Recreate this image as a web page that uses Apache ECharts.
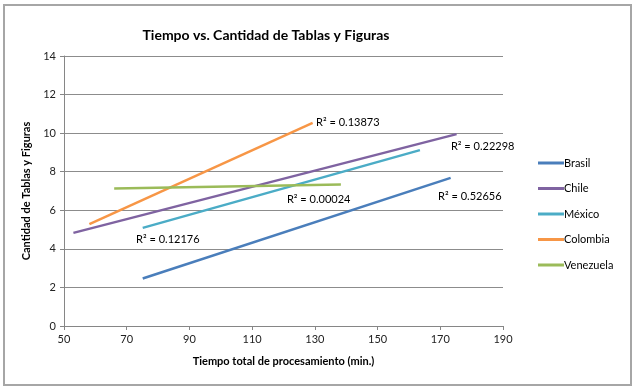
<!DOCTYPE html>
<html>
<head>
<meta charset="utf-8">
<script src="https://cdn.jsdelivr.net/npm/echarts@6/dist/echarts.min.js"></script>
<style>
  html, body { margin: 0; padding: 0; background: #fff; }
  #chart { width: 635px; height: 391px; }
</style>
</head>
<body>
<div id="chart"></div>
<script>
  // trendline end points: [tiempo, cantidad]
  const paises = ['Brasil', 'Chile', 'México', 'Colombia', 'Venezuela'];
  const colores = ['#4a7ebb', '#7f63a1', '#4bacc6', '#f79646', '#9bbb59'];
  const brasil = [[75.1, 2.46], [173.3, 7.68]];
  const chile = [[53.0, 4.83], [175.2, 9.95]];
  const mexico = [[75.1, 5.09], [163.5, 9.12]];
  const colombia = [[58.1, 5.28], [129.3, 10.53]];
  const venezuela = [[66.0, 7.13], [138.3, 7.34]];
  // R² labels and where they sit (data coords of the text's left edge)
  const r2Textos = ['R² = 0.52656', 'R² = 0.22298', 'R² = 0.12176', 'R² = 0.13873', 'R² = 0.00024'];
  const r2Pos = [[169.3, 6.73], [173.4, 9.29], [73.0, 4.49], [130.4, 10.54], [121.1, 6.58]];

  const datos = [brasil, chile, mexico, colombia, venezuela];

  let chart = echarts.init(document.getElementById('chart'));

  let fuente = 'Lato, "Open Sans", sans-serif';

  let option = {
    animation: false,
    textStyle: { fontFamily: fuente },
    title: {
      text: 'Tiempo vs. Cantidad de Tablas y Figuras',
      left: 261,
      top: 23,
      textAlign: 'center',
      textStyle: { fontSize: 14, fontWeight: 'bold', color: '#000', fontFamily: fuente }
    },
    grid: { left: 64, right: 132, top: 56, bottom: 65 },
    legend: {
      orient: 'vertical',
      left: 533,
      top: 151,
      icon: 'rect',
      itemWidth: 26,
      itemHeight: 3,
      itemGap: 11.5,
      textStyle: { fontSize: 11, color: '#000', lineHeight: 14, padding: [0, 0, 0, -5] },
      data: paises
    },
    xAxis: {
      type: 'value',
      min: 50, max: 190, interval: 20,
      name: 'Tiempo total de procesamiento (min.)',
      nameLocation: 'middle',
      nameGap: 30,
      nameTextStyle: { fontSize: 11, fontWeight: 'bold', color: '#000' },
      axisLine: { show: true, lineStyle: { color: '#868686', width: 1 } },
      axisTick: { show: true, length: 4, lineStyle: { color: '#868686' } },
      axisLabel: { fontSize: 11, color: '#222', margin: 8 },
      splitLine: { show: false }
    },
    yAxis: {
      type: 'value',
      min: 0, max: 14, interval: 2,
      name: 'Cantidad de Tablas y Figuras',
      nameLocation: 'middle',
      nameGap: 29,
      nameRotate: 90,
      nameTextStyle: { fontSize: 11, fontWeight: 'bold', color: '#000' },
      axisLine: { show: true, lineStyle: { color: '#868686', width: 1 } },
      axisTick: { show: true, length: 4, lineStyle: { color: '#868686' } },
      axisLabel: { fontSize: 11, color: '#222', margin: 8 },
      splitLine: { show: true, lineStyle: { color: '#8c8c8c', width: 1 } }
    },
    series: paises.map((p, i) => ({
      name: p,
      type: 'line',
      data: datos[i],
      symbol: 'none',
      color: colores[i],
      lineStyle: { width: 2.5, color: colores[i] },
      markPoint: {
        symbol: 'circle',
        symbolSize: 0,
        data: [{ coord: r2Pos[i] }],
        label: {
          show: true,
          position: 'right',
          distance: 0,
          formatter: r2Textos[i],
          fontSize: 11,
          color: '#000',
          fontFamily: fuente
        }
      }
    })),
    graphic: [{
      type: 'rect',
      shape: { x: 4, y: 5, width: 627, height: 380 },
      style: { fill: 'none', stroke: '#a6a6a6', lineWidth: 2 },
      silent: true
    }]
  };
  chart.setOption(option);
</script>
</body>
</html>
